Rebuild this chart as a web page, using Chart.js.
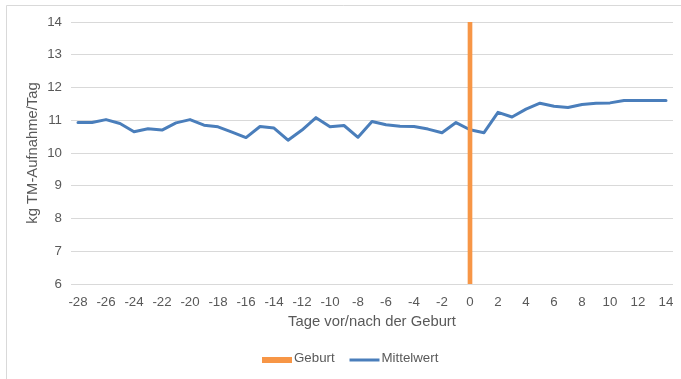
<!DOCTYPE html>
<html>
<head>
<meta charset="utf-8">
<script src="https://cdn.jsdelivr.net/npm/chart.js@4/dist/chart.umd.min.js"></script>
<style>
  html, body { margin: 0; padding: 0; background: #ffffff; }
  canvas { display: block; }
</style>
</head>
<body>
<canvas id="chart" width="681" height="379"></canvas>
<script>
// Days relative to calving
const days = [-28, -27, -26, -25, -24, -23, -22, -21, -20, -19, -18, -17, -16, -15,
  -14, -13, -12, -11, -10, -9, -8, -7, -6, -5, -4, -3, -2, -1,
  0, 1, 2, 3, 4, 5, 6, 7, 8, 9, 10, 11, 12, 13, 14];

// Mean dry matter intake (kg DM per day)
const mittelwert = [10.93, 10.93, 11.02, 10.90, 10.65, 10.74, 10.70, 10.92, 11.02, 10.85,
  10.80, 10.64, 10.47, 10.81, 10.76, 10.39, 10.70, 11.08, 10.80, 10.84,
  10.48, 10.96, 10.86, 10.82, 10.81, 10.73, 10.62, 10.93, 10.71, 10.62,
  11.24, 11.10, 11.34, 11.52, 11.43, 11.39, 11.48, 11.52, 11.53, 11.60,
  11.60, 11.60, 11.60];

// Calving marker: a single bar on day 0 reaching the top of the axis
const geburtTag = 0;
const geburtWert = 14;
const geburt = days.map(d => (d === geburtTag ? geburtWert : null));

const yTicks = { min: 6, max: 14, step: 1 };

const TEXT = '#595959';
const GRID = '#D9D9D9';
const BLUE = '#4A7EBB';
const ORANGE = '#F79646';
const FONT = '"Liberation Sans", Arial, sans-serif';

const legendItems = [
  { text: 'Geburt', color: ORANGE, kind: 'box' },
  { text: 'Mittelwert', color: BLUE, kind: 'line' }
];

// Outer frame and bottom legend
const framePlugin = {
  id: 'frame',
  beforeDraw(chart) {
    const ctx = chart.ctx;
    ctx.save();
    ctx.fillStyle = '#ffffff';
    ctx.fillRect(0, 0, chart.width, chart.height);
    ctx.strokeStyle = GRID;
    ctx.lineWidth = 1;
    ctx.beginPath();
    ctx.moveTo(6.5, chart.height);
    ctx.lineTo(6.5, 5.5);
    ctx.lineTo(chart.width, 5.5);
    ctx.stroke();
    ctx.restore();
  },
  afterDraw(chart) {
    const ctx = chart.ctx;
    ctx.save();
    ctx.font = '13.3px ' + FONT;
    ctx.textBaseline = 'middle';
    ctx.fillStyle = TEXT;
    const y = 359.5;
    const positions = [262, 349.5];
    legendItems.forEach((item, i) => {
      const x = positions[i];
      if (item.kind === 'box') {
        ctx.fillStyle = item.color;
        ctx.fillRect(x, y - 2.5, 30, 6);
      } else {
        ctx.strokeStyle = item.color;
        ctx.lineWidth = 3;
        ctx.beginPath();
        ctx.moveTo(x, y + 0.5);
        ctx.lineTo(x + 30, y + 0.5);
        ctx.stroke();
      }
      ctx.fillStyle = TEXT;
      ctx.fillText(item.text, x + 32, y - 1);
    });
    ctx.restore();
  }
};

new Chart(document.getElementById('chart'), {
  data: {
    labels: days,
    datasets: [
      {
        type: 'bar',
        label: 'Geburt',
        data: geburt,
        backgroundColor: ORANGE,
        barThickness: 4,
        order: 0
      },
      {
        type: 'line',
        label: 'Mittelwert',
        data: mittelwert,
        borderColor: BLUE,
        backgroundColor: BLUE,
        borderWidth: 3,
        pointRadius: 0,
        tension: 0,
        borderJoinStyle: 'round',
        borderCapStyle: 'round',
        order: 1
      }
    ]
  },
  options: {
    responsive: false,
    animation: false,
    layout: { padding: { left: 0, right: 8, top: 22, bottom: 40 } },
    plugins: {
      legend: { display: false },
      tooltip: { enabled: false }
    },
    scales: {
      x: {
        type: 'category',
        offset: true,
        grid: { display: false },
        border: { display: false },
        ticks: {
          color: TEXT,
          font: { family: FONT, size: 13.3 },
          padding: 2,
          autoSkip: false,
          maxRotation: 0,
          callback: function (value, index) {
            return index % 2 === 0 ? this.getLabelForValue(value) : '';
          }
        },
        title: {
          display: true,
          text: 'Tage vor/nach der Geburt',
          color: TEXT,
          font: { family: FONT, size: 14.8 },
          padding: { top: 0, bottom: 8 }
        },
        afterFit(scale) { scale.height = 55; }
      },
      y: {
        min: yTicks.min,
        max: yTicks.max,
        grid: { color: GRID, lineWidth: 1, drawTicks: false },
        border: { display: false },
        ticks: {
          stepSize: yTicks.step,
          color: TEXT,
          font: { family: FONT, size: 13.3 },
          padding: 9
        },
        title: {
          display: true,
          text: 'kg TM-Aufnahme/Tag',
          color: TEXT,
          font: { family: FONT, size: 14.8 },
          padding: { top: 24, bottom: 0 }
        },
        afterFit(scale) { scale.width = 71; }
      }
    }
  },
  plugins: [framePlugin]
});
</script>
</body>
</html>
